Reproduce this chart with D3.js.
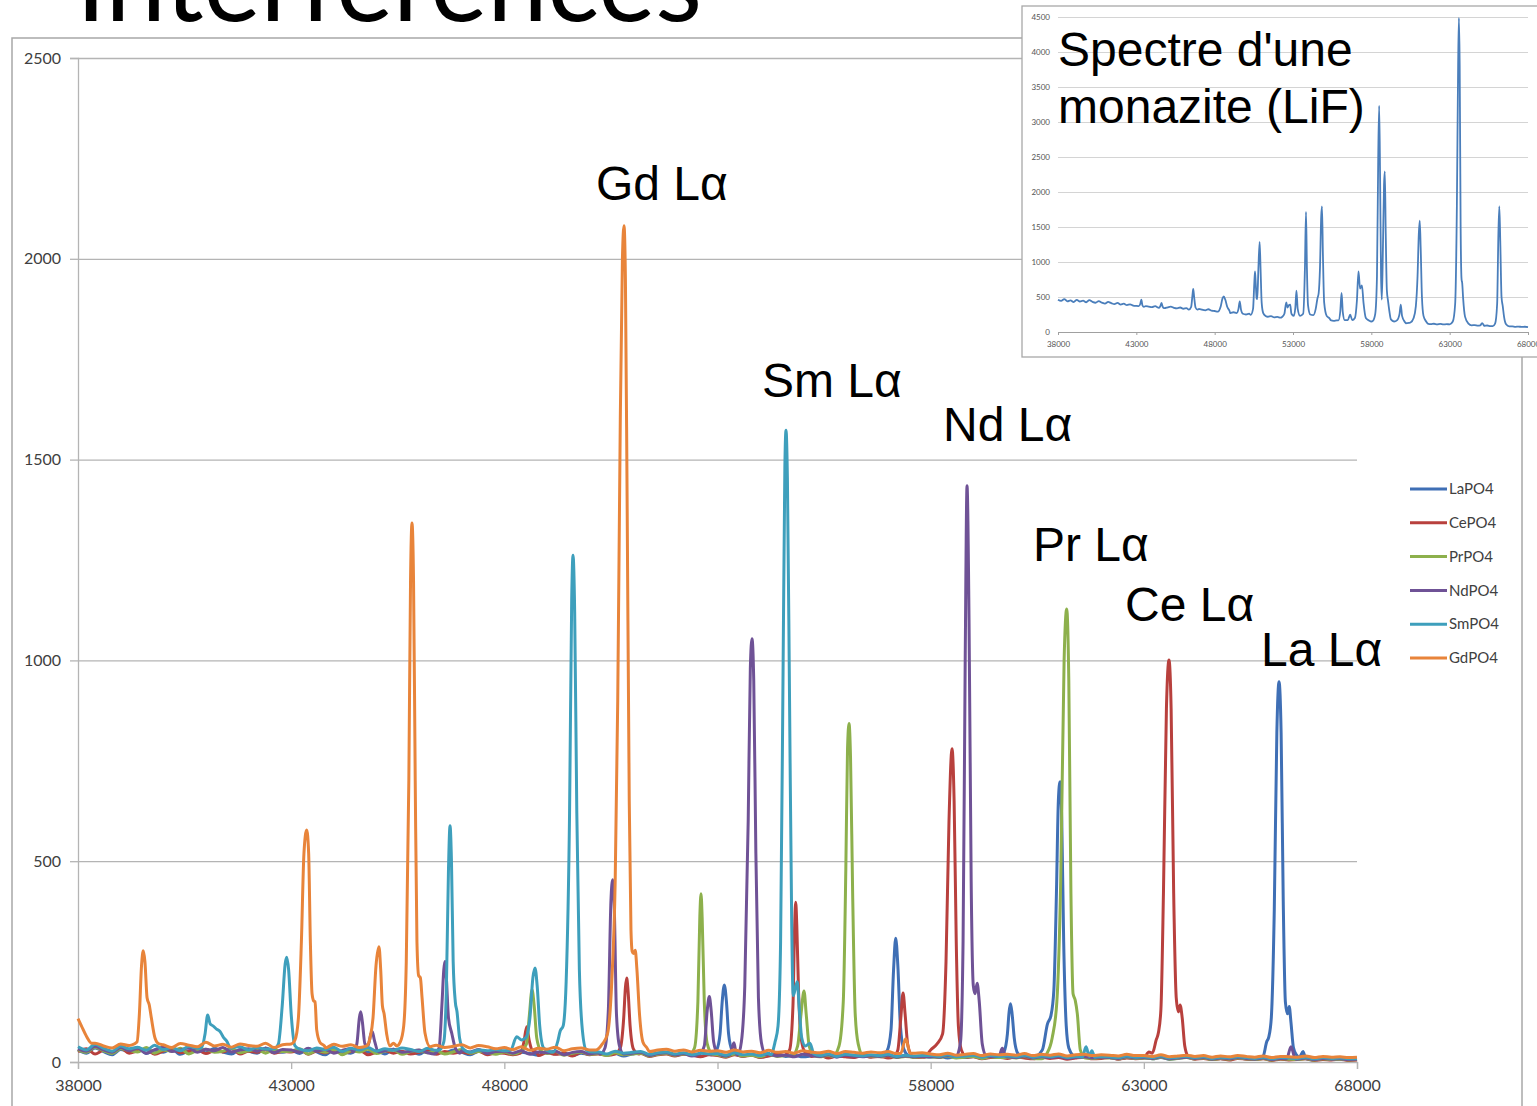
<!DOCTYPE html>
<html>
<head>
<meta charset="utf-8">
<script src="https://cdn.jsdelivr.net/npm/d3@7"></script>
<style>
  body { margin: 0; background: #fff; }
  text { font-family: Lato, "Open Sans", sans-serif; }
</style>
</head>
<body>
<svg id="chart" width="1537" height="1106"></svg>
<script>
// ---- Spectra of six REE phosphate standards (LiF crystal), counts vs spectrometer position ----
const xStart = 38000;
const xStep = 200;

const seriesNames = ["LaPO4", "CePO4", "PrPO4", "NdPO4", "SmPO4", "GdPO4"];
const seriesColors = ["#3f6fb5", "#b8403d", "#8db04c", "#6f5296", "#3e9fbc", "#e8843a"];

const xTicks = [38000, 43000, 48000, 53000, 58000, 63000, 68000];
const yTicks = [0, 500, 1000, 1500, 2000, 2500];
const insetYTicks = [0, 500, 1000, 1500, 2000, 2500, 3000, 3500, 4000, 4500];

// background counts, one reading every 200 steps from 38000
const laBase = [30,22,35,26,18,31,27,36,21,29,24,33,19,28,30,23,34,25,20,31,27,22,35,26,24,
  29,21,33,25,18,30,26,22,31,24,28,20,32,23,27,19,29,25,22,30,24,18,27,23,21,
  26,19,24,21,17,25,20,23,16,22,19,24,18,21,15,20,23,17,19,22,16,20,18,14,19,
  17,13,19,15,18,12,16,20,14,17,13,15,18,11,16,14,12,17,13,15,10,14,16,12,13,
  12,15,10,13,11,14,9,12,13,10,14,11,9,13,10,12,8,11,13,9,10,12,8,11,9,
  10,8,11,7,9,12,8,10,7,9,6,10,8,7,9,5,8,6,7,9,5,7,6,8,5,6];
const ceBase = [26,33,20,29,24,35,22,28,31,19,27,34,23,26,30,21,28,25,33,20,27,24,30,22,26,
  25,31,19,27,23,29,21,26,30,18,25,28,22,27,20,24,29,19,26,22,25,21,27,18,23,
  22,18,25,20,16,23,19,21,15,24,18,20,17,22,16,19,21,14,18,20,15,19,17,13,18,
  16,12,18,14,17,11,15,19,13,16,12,14,17,10,15,13,11,16,12,14,10,13,15,11,12,
  11,14,9,12,10,13,8,11,12,9,13,10,8,12,9,11,7,10,12,8,9,11,7,10,8,
  9,7,10,6,8,11,7,9,6,8,5,9,7,6,8,4,7,5,6,8,4,6,5,7,4,5];
const prBase = [31,24,37,28,21,33,29,25,36,22,30,27,34,20,29,32,24,27,35,23,28,31,22,30,26,
  27,33,20,29,24,31,18,28,25,32,21,27,30,19,26,29,23,28,20,25,31,22,26,24,19,
  25,20,27,18,23,21,26,17,22,24,19,21,16,23,18,20,22,15,19,21,17,20,14,18,16,
  18,14,20,15,17,13,19,14,16,12,18,15,13,17,11,16,14,12,15,13,16,11,14,12,13,
  13,11,15,10,12,14,9,13,11,12,10,14,9,12,10,13,8,11,12,9,11,10,8,12,9,
  10,8,12,7,9,11,8,10,6,9,7,10,8,6,9,5,8,7,6,9,5,8,6,7,5,6];
const ndBase = [33,27,39,30,24,36,28,34,22,31,37,26,30,35,24,32,28,36,25,30,33,27,34,23,31,
  30,24,34,27,31,22,29,33,25,30,21,28,32,24,27,30,23,29,26,22,28,25,31,21,26,
  27,22,28,19,25,23,27,18,24,26,20,23,17,25,19,22,24,16,21,23,18,21,15,20,17,
  19,15,21,16,18,14,20,15,17,13,19,16,14,18,12,17,15,13,16,14,17,12,15,13,14,
  14,12,16,11,13,15,10,14,12,13,11,15,10,13,11,14,9,12,13,10,12,11,9,13,10,
  11,9,13,8,10,12,9,11,7,10,8,11,9,7,10,6,9,8,7,10,6,9,7,8,6,7];
const smBase = [38,30,44,34,27,40,33,37,29,42,31,36,28,39,34,30,41,27,35,38,30,36,32,40,29,
  33,38,28,35,31,37,26,34,30,36,27,33,29,35,31,26,34,29,32,27,33,24,30,28,31,
  28,24,31,22,27,25,29,21,26,28,23,25,20,27,22,24,26,19,23,25,20,23,18,22,20,
  21,17,23,18,20,16,22,17,19,15,21,18,16,20,14,19,17,15,18,16,19,14,17,15,16,
  16,14,18,13,15,17,12,16,14,15,13,17,12,15,13,16,11,14,15,12,14,13,11,15,12,
  13,11,15,10,12,14,11,13,9,12,10,13,11,9,12,8,11,10,9,12,8,11,9,10,8,9];
const gdBase = [44,38,47,40,35,45,41,37,48,39,43,36,46,42,38,49,40,44,37,45,41,39,47,36,43,
  42,37,46,40,35,44,39,43,36,45,38,41,47,34,40,44,37,42,36,39,43,35,41,38,33,
  36,31,38,29,34,32,37,28,33,35,30,32,27,34,29,31,33,26,30,32,27,30,25,29,27,
  28,24,30,25,27,23,29,24,26,22,28,25,23,27,21,26,24,22,25,23,26,21,24,22,23,
  20,18,22,17,19,21,16,20,18,19,17,21,16,19,17,20,15,18,19,16,18,17,15,19,16,
  16,14,18,13,15,17,14,16,12,15,13,16,14,12,15,11,14,13,12,15,11,14,12,13,11,12];

// peak regions: [position, counts] readings
const laPeaks = [
  [[52860,18],[52980,30],[53060,70],[53110,150],[53160,192],[53210,150],[53260,70],[53340,30],[53460,18]],
  [[56850,14],[56980,28],[57070,80],[57130,230],[57180,308],[57230,240],[57290,90],[57370,32],[57500,14]],
  [[59600,12],[59720,25],[59800,70],[59840,125],[59873,145],[59910,120],[59960,60],[60040,22],[60160,12]],
  [[60450,12],[60620,30],[60740,95],[60820,115],[60890,180],[60950,420],[60995,650],[61034,698],[61075,600],[61120,300],[61180,90],[61240,35],[61360,14]],
  [[65650,8],[65800,15],[65880,50],[65930,62],[65990,110],[66060,380],[66120,820],[66171,947],[66220,820],[66270,400],[66320,150],[66370,120],[66410,138],[66450,100],[66510,35],[66580,18],[66650,12],[66734,26],[66800,8]]
];
const cePeaks = [
  [[48380,22],[48460,50],[48525,88],[48580,55],[48650,30],[48760,24]],
  [[50600,20],[50720,35],[50800,110],[50840,185],[50870,209],[50900,180],[50950,90],[51030,32],[51150,20]],
  [[54560,17],[54690,30],[54770,140],[54810,340],[54834,398],[54860,340],[54900,180],[54960,60],[55050,25],[55180,17]],
  [[57130,13],[57230,30],[57300,110],[57352,172],[57400,120],[57460,45],[57560,14]],
  [[57850,12],[58000,30],[58150,45],[58280,70],[58360,250],[58430,600],[58501,780],[58550,650],[58600,300],[58650,90],[58720,30],[58850,12]],
  [[63000,10],[63120,25],[63200,22],[63290,55],[63340,72],[63400,130],[63460,420],[63530,880],[63590,1001],[63640,880],[63700,420],[63760,160],[63810,125],[63850,142],[63900,110],[63960,40],[64040,14],[64150,8]]
];
const prPeaks = [
  [[48400,28],[48520,45],[48590,120],[48650,180],[48700,140],[48760,60],[48860,28]],
  [[52330,18],[52460,35],[52540,150],[52585,360],[52613,419],[52640,360],[52690,150],[52760,45],[52880,20]],
  [[54750,15],[54880,40],[54960,120],[55029,177],[55080,120],[55150,40],[55260,16]],
  [[55700,14],[55850,40],[55950,150],[56010,480],[56050,780],[56085,843],[56120,760],[56170,420],[56230,120],[56300,45],[56420,15]],
  [[60600,8],[60720,20],[60850,60],[60960,150],[61050,450],[61130,1000],[61191,1128],[61240,950],[61290,420],[61340,170],[61390,154],[61440,120],[61510,30],[61620,10]]
];
const ndPeaks = [
  [[44450,25],[44540,45],[44600,110],[44631,125],[44670,100],[44730,45],[44800,40],[44870,70],[44903,76],[44950,55],[45050,25]],
  [[46350,20],[46470,35],[46540,150],[46580,230],[46608,250],[46640,210],[46690,110],[46766,72],[46850,35],[46960,22]],
  [[50250,20],[50360,35],[50440,130],[50500,400],[50542,454],[50580,380],[50630,120],[50700,40],[50800,20]],
  [[52580,20],[52690,40],[52760,130],[52808,163],[52850,130],[52910,50],[53000,22]],
  [[53290,18],[53387,48],[53440,20]],
  [[53480,18],[53560,50],[53640,190],[53720,600],[53770,980],[53809,1054],[53850,950],[53900,520],[53960,160],[54030,48],[54130,18]],
  [[58600,14],[58700,50],[58760,300],[58810,1000],[58853,1435],[58900,1100],[58950,450],[59000,190],[59040,170],[59090,196],[59140,150],[59210,45],[59300,16]],
  [[59600,14],[59680,34],[59760,14]],
  [[66350,8],[66452,38],[66550,8]]
];
const smPeaks = [
  [[40900,36],[40980,70],[41042,117],[41100,95],[41167,90],[41250,82],[41331,76],[41420,60],[41488,52],[41580,34]],
  [[42600,33],[42700,45],[42790,140],[42860,245],[42895,261],[42940,230],[43000,120],[43090,40],[43200,32]],
  [[46480,30],[46580,50],[46640,180],[46690,480],[46726,588],[46760,500],[46800,250],[46850,150],[46890,125],[46950,60],[47040,32]],
  [[48150,30],[48290,63],[48400,55],[48500,60],[48600,110],[48670,210],[48720,234],[48770,190],[48830,90],[48920,35],[49030,27]],
  [[49150,25],[49250,50],[49310,77],[49380,90],[49450,200],[49530,620],[49580,1150],[49611,1262],[49650,1120],[49700,620],[49760,230],[49830,80],[49920,30],[50050,25]],
  [[54250,18],[54350,50],[54420,90],[54480,300],[54540,1000],[54580,1480],[54607,1573],[54640,1450],[54690,900],[54740,350],[54775,165],[54830,185],[54870,200],[54920,130],[54975,60],[55060,40],[55170,47],[55260,20]],
  [[61560,12],[61644,38],[61720,14],[61780,28],[61850,12]]
];
const gdPeaks = [
  [[38000,108],[38080,90],[38204,63],[38321,47]],
  [[39250,42],[39384,50],[39440,120],[39490,240],[39532,277],[39570,250],[39620,160],[39672,142],[39720,110],[39806,60],[39900,45]],
  [[43000,45],[43090,55],[43170,110],[43240,300],[43300,520],[43364,578],[43410,520],[43450,300],[43490,170],[43530,152],[43560,150],[43599,80],[43680,48],[43780,40]],
  [[44772,40],[44850,60],[44920,110],[44990,240],[45060,287],[45100,230],[45140,140],[45180,120],[45240,70],[45318,40]],
  [[45476,40],[45560,50],[45640,90],[45700,250],[45760,700],[45800,1200],[45834,1342],[45870,1200],[45910,700],[45950,300],[45990,215],[46030,210],[46070,160],[46139,72],[46257,38]],
  [[50150,30],[50300,45],[50420,70],[50520,200],[50600,450],[50660,900],[50720,1600],[50770,2000],[50807,2082],[50840,1950],[50880,1400],[50930,650],[50970,330],[51000,275],[51030,270],[51070,278],[51110,230],[51170,120],[51250,50],[51346,35]],
  [[57300,22],[57415,58],[57520,22]]
];

// monazite spectrum (inset)
const monaziteBase = [462,445,470,438,452,428,458,436,447,425,455,430,418,442,420,405,430,412,398,415,392,404,385,396,378,
  372,388,365,370,362,355,370,348,358,340,352,362,345,338,350,332,342,328,338,320,330,318,310,325,305,
  300,292,285,296,278,270,282,262,268,255,250,262,244,238,230,242,226,218,228,210,215,205,198,212,202,
  205,198,210,200,192,196,188,180,185,172,178,165,170,160,166,155,162,150,158,170,152,148,160,150,145,
  150,142,148,138,145,135,140,130,136,128,132,125,130,122,127,118,124,115,120,112,118,110,115,108,112,
  108,104,110,100,106,98,102,95,99,92,96,88,93,85,90,82,87,80,84,76,80,74,78,72,75,70];
const monazitePeaks = [
  [[43150,370],[43250,400],[43320,462],[43390,380],[43480,360]],
  [[44450,345],[44550,380],[44610,414],[44680,360],[44780,340]],
  [[46350,320],[46500,360],[46580,520],[46630,614],[46690,500],[46780,350],[46900,320]],
  [[48200,290],[48380,360],[48500,480],[48580,510],[48680,460],[48800,360],[48950,300]],
  [[49400,270],[49520,330],[49600,438],[49680,320],[49800,260]],
  [[50300,245],[50450,330],[50530,700],[50575,867],[50620,700],[50680,480],[50720,470],[50790,900],[50870,1286],[50930,900],[51000,420],[51100,270],[51250,230]],
  [[52300,215],[52450,260],[52570,424],[52650,350],[52720,380],[52820,390],[52900,260],[53050,230],[53150,350],[53220,590],[53300,330],[53450,230],[53650,260],[53760,900],[53830,1714],[53890,900],[53960,380],[54100,250],[54300,240],[54450,330],[54560,480],[54640,557],[54720,900],[54800,1650],[54850,1795],[54910,1100],[54990,420],[55150,230],[55350,190]],
  [[55900,165],[56020,300],[56100,557],[56180,280],[56300,170],[56500,170],[56650,248],[56780,170],[56950,200],[57080,450],[57180,867],[57280,620],[57400,667],[57500,420],[57650,200],[57850,165]],
  [[58100,160],[58250,260],[58360,800],[58440,2500],[58500,3233],[58560,2200],[58620,800],[58670,462],[58740,1200],[58810,2100],[58860,2295],[58920,1400],[58990,600],[59070,438],[59150,300],[59250,180],[59450,150],[59650,170],[59800,260],[59880,390],[59960,230],[60150,140]],
  [[60500,135],[60700,200],[60840,367],[60950,800],[61030,1400],[61090,1590],[61150,1200],[61230,500],[61330,230],[61500,150]],
  [[63000,110],[63200,150],[63350,400],[63460,1800],[63540,3800],[63590,4486],[63640,3800],[63700,1500],[63760,750],[63800,700],[63860,480],[63980,220],[64200,120]],
  [[64950,95],[65070,128],[65180,95]],
  [[65750,85],[65900,120],[66030,400],[66110,1400],[66170,1795],[66230,1300],[66310,500],[66390,367],[66470,220],[66600,110],[66800,80]]
];

// line identifications: text and the [position, counts] point where each label starts
const lineLabels = ["Gd Lα", "Sm Lα", "Nd Lα", "Pr Lα", "Ce Lα", "La Lα"];
const lineLabelAt = [[50150,2146],[54044,1656],[58289,1546],[60400,1247],[62558,1098],[65748,986]];

// merge background readings with peak readings (peak readings replace background inside their span)
function buildSeries(base, peaks) {
  const pts = [];
  base.forEach((v, i) => {
    const xv = xStart + i * xStep;
    const inside = peaks.some(p => xv >= p[0][0] && xv <= p[p.length - 1][0]);
    if (!inside) pts.push([xv, v]);
  });
  peaks.forEach(p => p.forEach(q => pts.push(q)));
  return pts.sort((a, b) => a[0] - b[0]);
}

const allSeries = [
  buildSeries(laBase, laPeaks),
  buildSeries(ceBase, cePeaks),
  buildSeries(prBase, prPeaks),
  buildSeries(ndBase, ndPeaks),
  buildSeries(smBase, smPeaks),
  buildSeries(gdBase, gdPeaks)
];
const monazite = buildSeries(monaziteBase, monazitePeaks);

const svg = d3.select("#chart");
const axisGrey = "#b4b4b4";
const labelGrey = "#404040";

// slide title (runs off the top edge)
svg.append("text")
  .attr("x", 76).attr("y", 21)
  .attr("textLength", 626).attr("lengthAdjust", "spacingAndGlyphs")
  .style("font-family", "Lato, sans-serif")
  .style("font-size", "108px")
  .attr("fill", "#000")
  .text("Interférences");

// chart frame
svg.append("rect")
  .attr("x", 12).attr("y", 38).attr("width", 1510).attr("height", 1100)
  .attr("fill", "#fff").attr("stroke", "#a8a8a8").attr("stroke-width", 1.5);

// ---- main chart ----
const x = d3.scaleLinear().domain([38000, 68000]).range([78, 1357]);
const y = d3.scaleLinear().domain([0, 2500]).range([1062, 58]);

// horizontal gridlines
svg.append("g")
  .attr("transform", "translate(78,0)")
  .call(d3.axisLeft(y).tickValues(yTicks.filter(d => d > 0)).tickSize(-(1357 - 78)).tickFormat(""))
  .call(g => g.select(".domain").remove())
  .call(g => g.selectAll("line").attr("stroke", axisGrey).attr("stroke-width", 1.3));

// y axis
svg.append("g")
  .attr("transform", "translate(78,0)")
  .call(d3.axisLeft(y).tickValues(yTicks).tickSize(8).tickPadding(9).tickFormat(d3.format("d")))
  .call(g => g.select(".domain").attr("stroke", axisGrey).attr("stroke-width", 1.3))
  .call(g => g.selectAll("line").attr("stroke", axisGrey).attr("stroke-width", 1.3))
  .call(g => g.selectAll("text").attr("fill", labelGrey).style("font-size", "16px").style("font-family", "Lato, sans-serif"));

// x axis
svg.append("g")
  .attr("transform", "translate(0,1062)")
  .call(d3.axisBottom(x).tickValues(xTicks).tickSize(7).tickPadding(11).tickFormat(d3.format("d")))
  .call(g => g.select(".domain").attr("stroke", axisGrey).attr("stroke-width", 1.3))
  .call(g => g.selectAll("line").attr("stroke", axisGrey).attr("stroke-width", 1.3))
  .call(g => g.selectAll("text").attr("fill", labelGrey).style("font-size", "16px").style("font-family", "Lato, sans-serif"));

// spectra
const line = d3.line().x(d => x(d[0])).y(d => y(d[1])).curve(d3.curveMonotoneX);
svg.append("g").selectAll("path")
  .data(allSeries)
  .join("path")
  .attr("d", line)
  .attr("fill", "none")
  .attr("stroke", (d, i) => seriesColors[i])
  .attr("stroke-width", 3)
  .attr("stroke-linejoin", "round");

// legend
const legend = svg.append("g").attr("transform", "translate(1410,489)");
const item = legend.selectAll("g").data(seriesNames).join("g")
  .attr("transform", (d, i) => `translate(0,${i * 33.8})`);
item.append("line").attr("x1", 0).attr("x2", 37).attr("y1", 0).attr("y2", 0)
  .attr("stroke", (d, i) => seriesColors[i]).attr("stroke-width", 3);
item.append("text").attr("x", 39).attr("y", 0).attr("dy", "0.35em")
  .attr("fill", labelGrey).style("font-size", "15px").style("font-family", "Lato, sans-serif")
  .text(d => d);

// line identification labels
svg.append("g").selectAll("text")
  .data(lineLabels)
  .join("text")
  .attr("x", (d, i) => x(lineLabelAt[i][0]))
  .attr("y", (d, i) => y(lineLabelAt[i][1]))
  .style("font-family", "'Liberation Sans', Arial, sans-serif")
  .style("font-size", "48px")
  .attr("fill", "#000")
  .text(d => d);

// ---- inset: monazite spectrum ----
const inset = svg.append("g");
inset.append("rect")
  .attr("x", 1022).attr("y", 6).attr("width", 530).attr("height", 351)
  .attr("fill", "#fff").attr("stroke", "#a8a8a8").attr("stroke-width", 1.3);

const ix = d3.scaleLinear().domain([38000, 68000]).range([1058, 1528]);
const iy = d3.scaleLinear().domain([0, 4500]).range([332, 17]);

inset.append("g")
  .attr("transform", "translate(1058,0)")
  .call(d3.axisLeft(iy).tickValues(insetYTicks.filter(d => d > 0)).tickSize(-(1528 - 1058)).tickFormat(""))
  .call(g => g.select(".domain").remove())
  .call(g => g.selectAll("line").attr("stroke", "#d4d4d4").attr("stroke-width", 1));

inset.append("g")
  .attr("transform", "translate(1058,0)")
  .call(d3.axisLeft(iy).tickValues(insetYTicks).tickSize(0).tickPadding(8).tickFormat(d3.format("d")))
  .call(g => g.select(".domain").remove())
  .call(g => g.selectAll("text").attr("fill", "#555").style("font-size", "8px").style("font-family", "Lato, sans-serif"));

inset.append("g")
  .attr("transform", "translate(0,332)")
  .call(d3.axisBottom(ix).tickValues(xTicks).tickSize(3).tickPadding(6).tickFormat(d3.format("d")))
  .call(g => g.select(".domain").attr("stroke", "#a0a0a0").attr("stroke-width", 1))
  .call(g => g.selectAll("line").attr("stroke", "#a0a0a0"))
  .call(g => g.selectAll("text").attr("fill", "#555").style("font-size", "8px").style("font-family", "Lato, sans-serif"));

const iline = d3.line().x(d => ix(d[0])).y(d => iy(d[1])).curve(d3.curveMonotoneX);
inset.append("path")
  .datum(monazite)
  .attr("d", iline)
  .attr("fill", "none")
  .attr("stroke", "#4a7ebb")
  .attr("stroke-width", 1.8);

inset.append("text")
  .attr("x", 1058).attr("y", 66)
  .style("font-family", "'Liberation Sans', Arial, sans-serif").style("font-size", "48px")
  .text("Spectre d'une");
inset.append("text")
  .attr("x", 1058).attr("y", 123)
  .style("font-family", "'Liberation Sans', Arial, sans-serif").style("font-size", "48px")
  .text("monazite (LiF)");
</script>
</body>
</html>
